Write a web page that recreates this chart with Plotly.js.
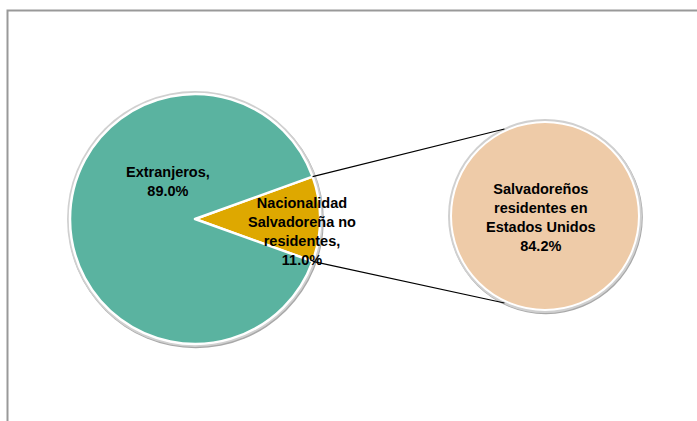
<!DOCTYPE html>
<html>
<head>
<meta charset="utf-8">
<script src="https://cdn.plot.ly/plotly-3.0.1.min.js"></script>
<style>html,body{margin:0;padding:0;background:#fff;}#chart{width:697px;height:421px;}</style>
</head>
<body>
<div id="chart"></div>
<script>
// ---- data ----
const mainLabels = ['Nacionalidad Salvadoreña no residentes', 'Extranjeros'];
const mainValues = [11.0, 89.0];
const mainText = ['Nacionalidad<br>Salvadoreña no<br>residentes,', 'Extranjeros,'];
const subLabels = ['Salvadoreños residentes en Estados Unidos'];
const subValues = [84.2];
const subText = ['Salvadoreños<br>residentes en<br>Estados Unidos'];

// ---- styles / geometry ----
const W = 697, H = 421;
const mainColors = ['#DEA800', '#5AB3A0'];
const subColors = ['#EECBA8'];
const P1 = {cx: 195, cy: 219, r: 125};
const P2 = {cx: 545, cy: 216, r: 94};
const font = {family: 'Liberation Sans, Arial, sans-serif', size: 14.5, color: '#000'};

function dom(p) {
  return {x: [(p.cx - p.r) / W, (p.cx + p.r) / W], y: [(H - p.cy - p.r) / H, (H - p.cy + p.r) / H]};
}
const px = x => x / W, py = y => (H - y) / H;

const total = mainValues.reduce((a, b) => a + b, 0);
const halfDeg = mainValues[0] / total * 180;

const traces = [
  {type: 'pie', labels: mainLabels, values: mainValues, sort: false,
   direction: 'counterclockwise', rotation: 90 - halfDeg,
   marker: {colors: mainColors, line: {color: '#ffffff', width: 2.5}},
   textinfo: 'none', hoverinfo: 'label+percent', showlegend: false, domain: dom(P1)},
  {type: 'pie', labels: subLabels, values: subValues, sort: false,
   marker: {colors: subColors, line: {color: '#ffffff', width: 2}},
   textinfo: 'none', hoverinfo: 'label', showlegend: false, domain: dom(P2)}
];

// connector lines
const a1 = halfDeg * Math.PI / 180;
const a2 = 115 * Math.PI / 180;
const top1 = [P1.cx + P1.r * Math.cos(a1), P1.cy - P1.r * Math.sin(a1)];
const bot1 = [P1.cx + P1.r * Math.cos(a1), P1.cy + P1.r * Math.sin(a1)];
const top2 = [P2.cx + (P2.r + 2) * Math.cos(a2), P2.cy - (P2.r + 2) * Math.sin(a2)];
const bot2 = [P2.cx + (P2.r + 2) * Math.cos(a2), P2.cy + (P2.r + 2) * Math.sin(a2)];

function ring(p, d, color, dx, dy) {
  return {type: 'circle', xref: 'paper', yref: 'paper', layer: 'below',
    x0: px(p.cx - p.r - d + dx), x1: px(p.cx + p.r + d + dx), y0: py(p.cy + p.r + d + dy), y1: py(p.cy - p.r - d + dy),
    fillcolor: color, line: {width: 0}};
}

const shapes = [
  {type: 'rect', xref: 'paper', yref: 'paper', x0: px(7.5), x1: 1.02, y0: -0.02, y1: py(10.5),
   line: {color: '#999999', width: 2}, fillcolor: 'rgba(0,0,0,0)', layer: 'below'},
  ring(P1, 3, '#a8a8a8', 0.8, 1.2), ring(P1, 3, '#d0d0d0', 0, 0),
  ring(P2, 3, '#a8a8a8', 0.8, 1.2), ring(P2, 3, '#d0d0d0', 0, 0),
  {type: 'line', xref: 'paper', yref: 'paper', x0: px(top1[0]), y0: py(top1[1]), x1: px(top2[0]), y1: py(top2[1]),
   line: {color: '#000', width: 1.2}},
  {type: 'line', xref: 'paper', yref: 'paper', x0: px(bot1[0]), y0: py(bot1[1]), x1: px(bot2[0]), y1: py(bot2[1]),
   line: {color: '#000', width: 1.2}}
];

const pct = v => (v / total * 100).toFixed(1) + '%';
const annotations = [
  {text: '<b>' + mainText[1] + '<br>' + pct(mainValues[1]) + '</b>', x: px(168), y: py(181)},
  {text: '<b>' + mainText[0] + '<br>' + pct(mainValues[0]) + '</b>', x: px(302), y: py(231)},
  {text: '<b>' + subText[0] + '<br>' + subValues[0].toFixed(1) + '%</b>', x: px(541), y: py(218)}
].map(a => Object.assign({xref: 'paper', yref: 'paper', showarrow: false, font: font,
  xanchor: 'center', yanchor: 'middle', align: 'center'}, a));

Plotly.newPlot('chart', traces, {
  width: W, height: H, margin: {l: 0, r: 0, t: 0, b: 0, pad: 0},
  paper_bgcolor: '#ffffff', plot_bgcolor: '#ffffff',
  shapes: shapes, annotations: annotations, showlegend: false
}, {displayModeBar: false, staticPlot: true});
</script>
</body>
</html>
